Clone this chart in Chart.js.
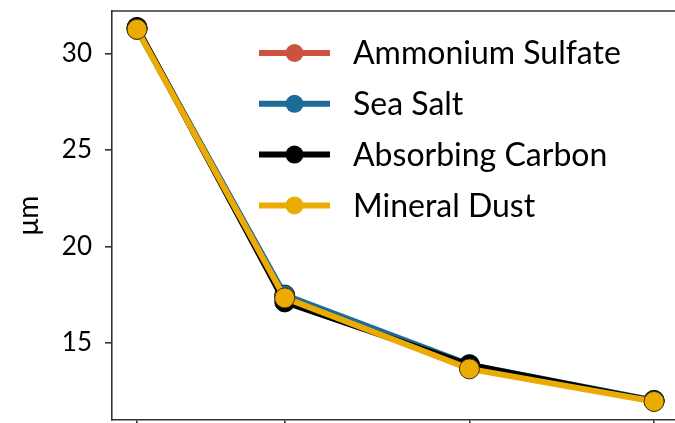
<!DOCTYPE html>
<html>
<head>
<meta charset="utf-8">
<script src="https://cdn.jsdelivr.net/npm/chart.js@4/dist/chart.umd.min.js"></script>
<style>
  html, body { margin: 0; padding: 0; background: #fff; overflow: hidden; width: 675px; height: 423px; }
  #wrap { position: absolute; left: 0; top: 0; width: 720px; height: 440px; }
</style>
</head>
<body>
<div id="wrap"><canvas id="chart" width="720" height="440"></canvas></div>
<script>
// Valeurs
const xValues = [0, 4, 9, 14];
const yTicks = [15, 20, 25, 30];
const seriesNames = ['Ammonium Sulfate', 'Sea Salt', 'Absorbing Carbon', 'Mineral Dust'];
const ammoniumSulfate = [31.3, 17.4, 13.8, 12.0];
const seaSalt = [31.25, 17.48, 13.87, 12.02];
const absorbingCarbon = [31.35, 17.12, 13.85, 11.98];
const mineralDust = [31.25, 17.33, 13.65, 11.96];
const xMin = -0.677, xMax = 15.46;
const yMin = 11.0, yMax = 32.2;

const colors = ['#cd523d', '#1d6b99', '#000000', '#ebab05'];
const edges = ['#5a1a10', '#0a2a40', '#000000', '#4a3300'];
const FONT = 'Lato, "DejaVu Sans", sans-serif';

const seriesValues = [ammoniumSulfate, seaSalt, absorbingCarbon, mineralDust];

const datasets = seriesNames.map((name, i) => ({
  label: name,
  data: xValues.map((x, k) => ({ x, y: seriesValues[i][k] })),
  borderColor: colors[i],
  backgroundColor: colors[i],
  pointBackgroundColor: colors[i],
  pointBorderColor: edges[i],
  pointBorderWidth: 1,
  pointRadius: 10,
  borderWidth: 6,
  order: seriesNames.length - 1 - i, // Mineral Dust dessiné au-dessus
}));

// Cadre du haut + légende dans la zone du graphe
const framePlugin = {
  id: 'frame',
  afterDraw(chart) {
    const { ctx, chartArea: a } = chart;
    ctx.save();
    ctx.strokeStyle = '#333';
    ctx.lineWidth = 1.6;
    ctx.beginPath();
    ctx.moveTo(a.left, a.top);
    ctx.lineTo(a.right, a.top);
    ctx.stroke();

    chart.data.datasets.forEach((ds, i) => {
      const y = a.top + 42 + i * 50.8;
      const x0 = a.left + 147, x1 = a.left + 218;
      ctx.strokeStyle = ds.borderColor;
      ctx.lineWidth = 6;
      ctx.beginPath();
      ctx.moveTo(x0, y);
      ctx.lineTo(x1, y);
      ctx.stroke();
      ctx.fillStyle = ds.pointBackgroundColor;
      ctx.beginPath();
      ctx.arc((x0 + x1) / 2, y, 9, 0, Math.PI * 2);
      ctx.fill();
      ctx.fillStyle = '#000';
      ctx.font = '32px ' + FONT;
      ctx.textBaseline = 'middle';
      ctx.textAlign = 'left';
      ctx.fillText(ds.label, a.left + 241, y + 1);
    });
    ctx.restore();
  },
};

new Chart(document.getElementById('chart'), {
  type: 'line',
  data: { datasets },
  plugins: [framePlugin],
  options: {
    responsive: false,
    animation: false,
    layout: { padding: { top: 10, right: 12, bottom: 0, left: 0 } },
    plugins: { legend: { display: false }, tooltip: { enabled: false } },
    scales: {
      x: {
        type: 'linear',
        min: xMin,
        max: xMax,
        afterBuildTicks: s => { s.ticks = xValues.map(v => ({ value: v })); },
        afterFit: s => { s.height = 20; },
        ticks: { display: false },
        grid: { drawOnChartArea: false, tickLength: 8, color: '#333', lineWidth: 1.6 },
        border: { color: '#333', width: 1.6 },
      },
      y: {
        min: yMin,
        max: yMax,
        afterBuildTicks: s => { s.ticks = yTicks.map(v => ({ value: v })); },
        afterFit: s => { s.width = 112; s.paddingTop = 0; s.paddingBottom = 0; },
        ticks: { color: '#000', font: { family: FONT, size: 26 }, padding: 13 },
        grid: { drawOnChartArea: false, tickLength: 7, color: '#333', lineWidth: 1.6 },
        border: { color: '#333', width: 1.6 },
        title: { display: true, text: 'μm', color: '#000', font: { family: FONT, size: 28 }, padding: { top: 12, bottom: 0 } },
      },
    },
  },
});
</script>
</body>
</html>
